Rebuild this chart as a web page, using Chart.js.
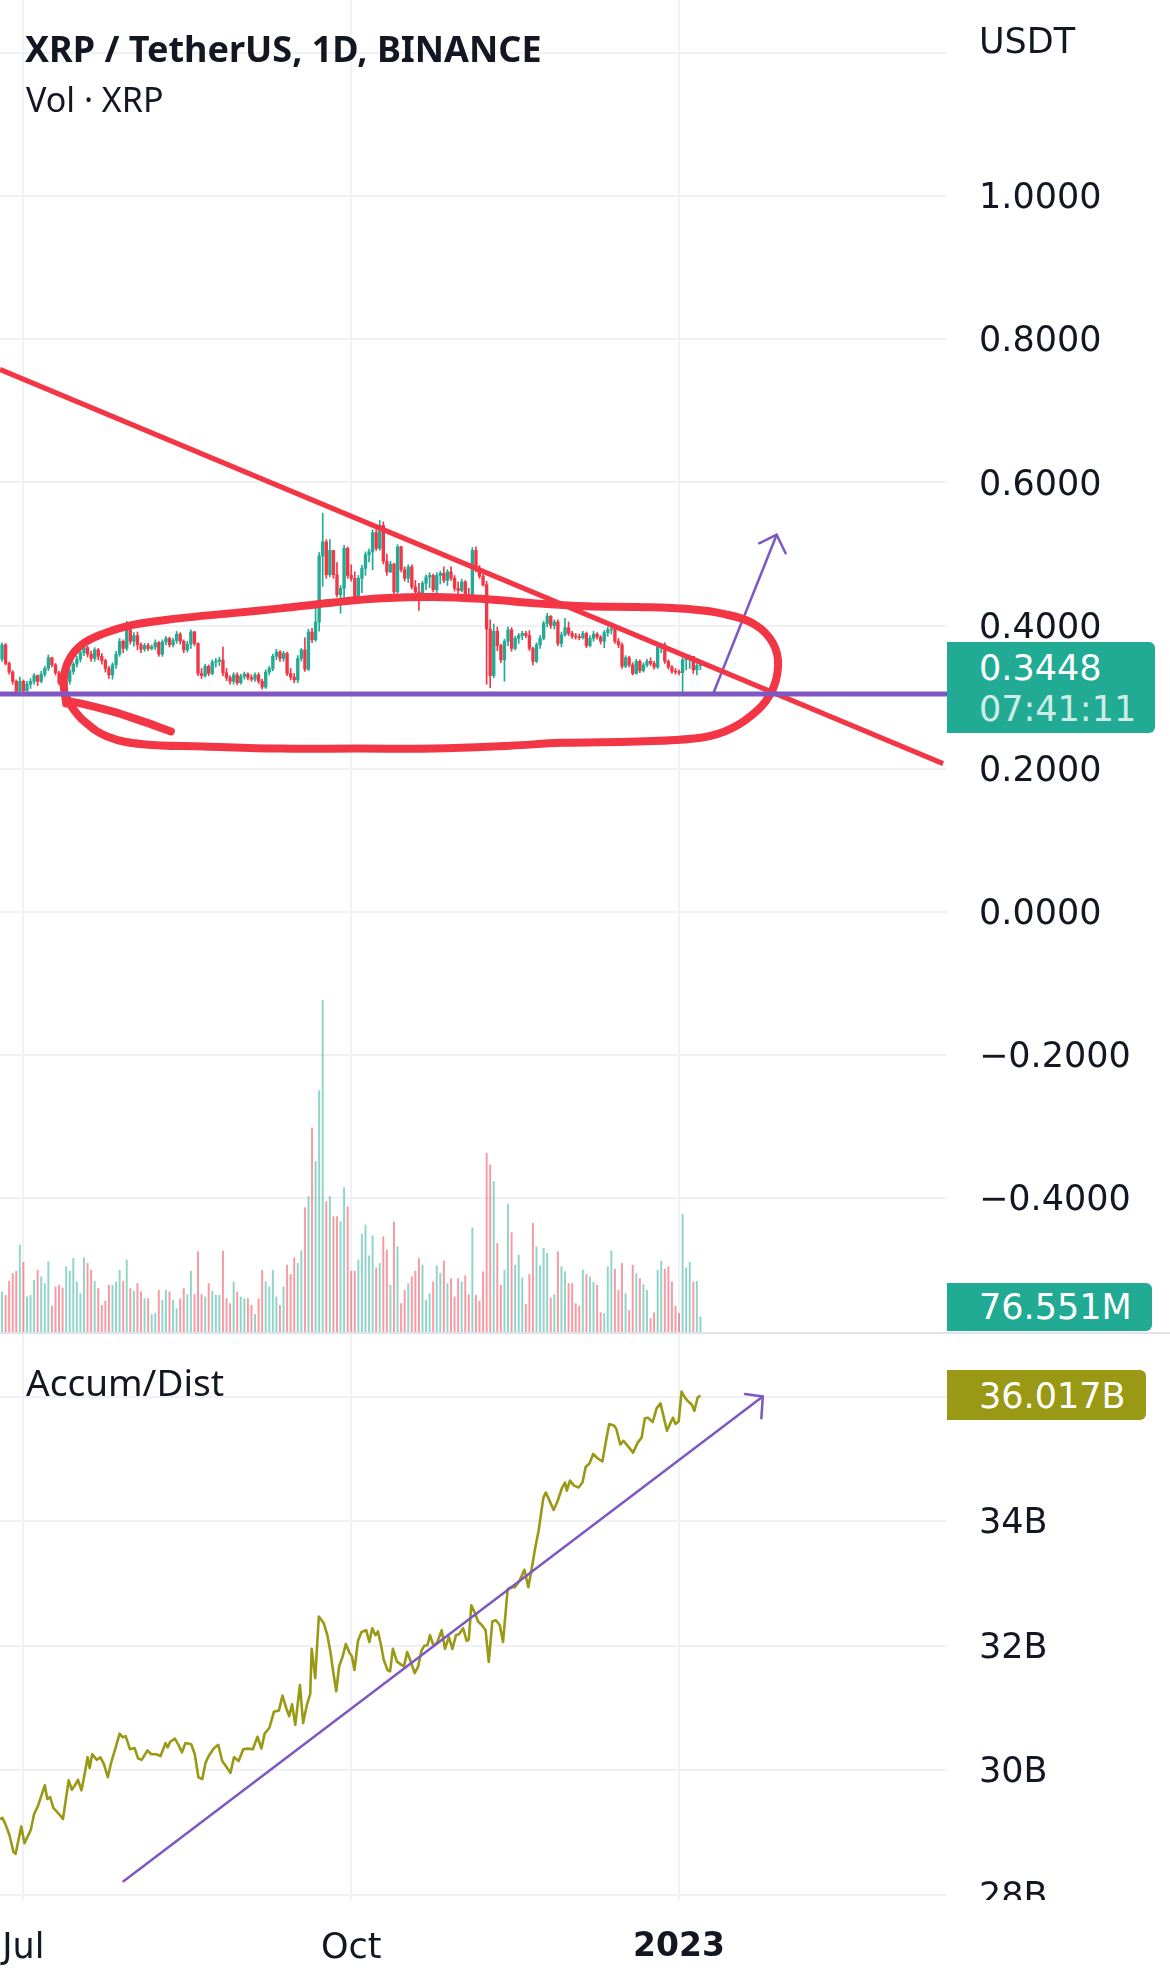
<!DOCTYPE html>
<html>
<head>
<meta charset="utf-8">
<title>XRP / TetherUS, 1D, BINANCE</title>
<script src="https://cdn.jsdelivr.net/npm/chart.js@4.4.1/dist/chart.umd.min.js"></script>
<style>
  html, body { margin: 0; padding: 0; background: #fff; }
  body { width: 1170px; height: 1986px; position: relative; overflow: hidden; color: #131722; font-family: "DejaVu Sans", sans-serif; }
  canvas { position: absolute; left: 0; }
  #priceCanvas { top: 0; }
  #adCanvas { top: 1333px; }
  .txt { position: absolute; white-space: nowrap; line-height: 1; }
  .title { left: 25px; top: 24px; font: bold 36px "Noto Sans", sans-serif; }
  .sub { left: 26px; top: 76px; font: 34px "Noto Sans", sans-serif; }
  .unit { left: 979px; top: 21px; font: 35px "DejaVu Sans", sans-serif; }
  .pane2 { left: 26px; top: 1356px; font: 37px "Noto Sans", sans-serif; }
  .box { position: absolute; left: 947px; border-radius: 0 6px 6px 0; color: #fff; font: 35px "DejaVu Sans", sans-serif; }
  .box span { position: absolute; left: 32px; line-height: 1; white-space: nowrap; }
  #sep { position: absolute; left: 0; top: 1332px; width: 1170px; height: 2px; background: #e0e3eb; }
</style>
</head>
<body>
<canvas id="priceCanvas" width="1170" height="1333"></canvas>
<canvas id="adCanvas" width="1170" height="653"></canvas>
<div id="sep"></div>

<div class="txt title">XRP / TetherUS, 1D, BINANCE</div>
<div class="txt sub">Vol · XRP</div>
<div class="txt unit">USDT</div>
<div class="txt pane2">Accum/Dist</div>

<div class="box" style="top:642px;width:208px;height:91px;background:#22ab94;">
  <span style="top:9px;">0.3448</span>
  <span style="top:50px;color:rgba(255,255,255,0.8);">07:41:11</span>
</div>
<div class="box" style="top:1283px;width:205px;height:48px;background:#22ab94;">
  <span style="top:7px;">76.551M</span>
</div>
<div class="box" style="top:1370px;width:199px;height:50px;background:#999915;">
  <span style="top:9px;">36.017B</span>
</div>

<script>
// first candle is 25 Jun 2022, day 0 = 1 Jul 2022
const startDay = -6;
const firstOpen = 0.353;

const closes = [
  0.373, 0.347, 0.335, 0.322, 0.308, 0.322,
  0.309, 0.318, 0.322, 0.330, 0.322, 0.332, 0.340, 0.355, 0.345, 0.334,
  0.320, 0.309, 0.322, 0.336, 0.346, 0.353, 0.362, 0.369, 0.360, 0.354,
  0.366, 0.357, 0.351, 0.340, 0.331, 0.345, 0.360, 0.378, 0.368, 0.394,
  0.378, 0.386, 0.373, 0.367, 0.372, 0.368, 0.370, 0.376, 0.360, 0.377,
  0.382, 0.373, 0.379, 0.388, 0.378, 0.366, 0.374, 0.391, 0.375, 0.333,
  0.330, 0.343, 0.333, 0.349, 0.350, 0.352, 0.334, 0.327, 0.322, 0.331,
  0.320, 0.329, 0.332, 0.327, 0.325, 0.331, 0.322, 0.314, 0.335, 0.340,
  0.357, 0.363, 0.354, 0.361, 0.333, 0.328, 0.324, 0.354, 0.366, 0.339,
  0.391, 0.380, 0.405, 0.497, 0.517, 0.471, 0.505, 0.471, 0.443, 0.452,
  0.508, 0.470, 0.466, 0.440, 0.466, 0.480, 0.499, 0.503, 0.530, 0.508,
  0.540, 0.490, 0.475, 0.486, 0.447, 0.510, 0.478, 0.466, 0.482, 0.454,
  0.447, 0.438, 0.459, 0.468, 0.470, 0.450, 0.470, 0.473, 0.463, 0.475,
  0.466, 0.452, 0.449, 0.461, 0.443, 0.440, 0.505, 0.478, 0.469, 0.457,
  0.395, 0.330, 0.392, 0.372, 0.352, 0.378, 0.394, 0.368, 0.382, 0.386,
  0.389, 0.386, 0.368, 0.350, 0.373, 0.382, 0.403, 0.413, 0.400, 0.405,
  0.375, 0.387, 0.397, 0.389, 0.385, 0.384, 0.383, 0.389, 0.372, 0.382,
  0.388, 0.384, 0.378, 0.390, 0.394, 0.395, 0.378, 0.373, 0.343, 0.355,
  0.345, 0.333, 0.350, 0.337, 0.345, 0.350, 0.347, 0.342, 0.370, 0.373,
  0.350, 0.342, 0.336, 0.335, 0.334, 0.352, 0.355, 0.357, 0.338, 0.344,
  0.3448
];

const highs = [
  0.376, 0.375, 0.349, 0.337, 0.324, 0.328,
  0.324, 0.322, 0.326, 0.333, 0.331, 0.336, 0.343, 0.359, 0.356, 0.347,
  0.336, 0.322, 0.326, 0.339, 0.349, 0.357, 0.366, 0.378, 0.371, 0.364,
  0.369, 0.368, 0.361, 0.353, 0.343, 0.348, 0.364, 0.382, 0.380, 0.406,
  0.395, 0.390, 0.391, 0.376, 0.375, 0.375, 0.373, 0.380, 0.378, 0.380,
  0.385, 0.384, 0.382, 0.392, 0.390, 0.380, 0.378, 0.394, 0.392, 0.376,
  0.340, 0.346, 0.345, 0.352, 0.354, 0.356, 0.370, 0.340, 0.330, 0.334,
  0.334, 0.332, 0.335, 0.334, 0.331, 0.334, 0.334, 0.325, 0.338, 0.343,
  0.360, 0.367, 0.365, 0.364, 0.363, 0.340, 0.333, 0.358, 0.368, 0.383,
  0.395, 0.396, 0.425, 0.502, 0.557, 0.520, 0.520, 0.505, 0.488, 0.456,
  0.512, 0.510, 0.485, 0.475, 0.470, 0.484, 0.503, 0.507, 0.534, 0.534,
  0.547, 0.545, 0.500, 0.490, 0.487, 0.513, 0.511, 0.482, 0.485, 0.485,
  0.463, 0.459, 0.462, 0.471, 0.474, 0.472, 0.474, 0.476, 0.482, 0.478,
  0.482, 0.470, 0.461, 0.465, 0.463, 0.452, 0.509, 0.510, 0.484, 0.472,
  0.462, 0.408, 0.402, 0.398, 0.374, 0.381, 0.398, 0.397, 0.385, 0.389,
  0.392, 0.392, 0.393, 0.370, 0.376, 0.386, 0.406, 0.417, 0.414, 0.408,
  0.408, 0.391, 0.410, 0.405, 0.392, 0.389, 0.388, 0.392, 0.391, 0.386,
  0.392, 0.390, 0.386, 0.393, 0.398, 0.400, 0.397, 0.382, 0.376, 0.358,
  0.357, 0.348, 0.353, 0.352, 0.348, 0.353, 0.355, 0.350, 0.373, 0.375,
  0.376, 0.352, 0.344, 0.340, 0.338, 0.355, 0.358, 0.359, 0.357, 0.347,
  0.347
];

const lows = [
  0.350, 0.345, 0.332, 0.318, 0.302, 0.303,
  0.305, 0.306, 0.312, 0.318, 0.316, 0.320, 0.329, 0.337, 0.342, 0.331,
  0.317, 0.305, 0.301, 0.318, 0.332, 0.342, 0.349, 0.358, 0.356, 0.350,
  0.350, 0.352, 0.346, 0.335, 0.326, 0.325, 0.340, 0.357, 0.362, 0.365,
  0.374, 0.371, 0.366, 0.362, 0.364, 0.365, 0.366, 0.366, 0.357, 0.357,
  0.373, 0.370, 0.370, 0.375, 0.374, 0.362, 0.363, 0.368, 0.372, 0.330,
  0.326, 0.328, 0.330, 0.331, 0.342, 0.344, 0.330, 0.323, 0.318, 0.318,
  0.317, 0.318, 0.325, 0.324, 0.322, 0.322, 0.319, 0.311, 0.312, 0.331,
  0.337, 0.352, 0.350, 0.350, 0.330, 0.324, 0.320, 0.320, 0.350, 0.336,
  0.337, 0.376, 0.378, 0.392, 0.455, 0.466, 0.468, 0.466, 0.440, 0.417,
  0.436, 0.466, 0.462, 0.436, 0.434, 0.446, 0.470, 0.489, 0.478, 0.505,
  0.505, 0.486, 0.470, 0.474, 0.442, 0.445, 0.475, 0.462, 0.460, 0.451,
  0.444, 0.421, 0.436, 0.450, 0.453, 0.447, 0.440, 0.458, 0.460, 0.456,
  0.463, 0.448, 0.445, 0.447, 0.440, 0.437, 0.438, 0.475, 0.466, 0.455,
  0.318, 0.313, 0.327, 0.365, 0.348, 0.322, 0.372, 0.364, 0.366, 0.375,
  0.380, 0.383, 0.365, 0.345, 0.348, 0.368, 0.380, 0.398, 0.396, 0.395,
  0.372, 0.370, 0.385, 0.386, 0.382, 0.381, 0.380, 0.381, 0.369, 0.370,
  0.378, 0.381, 0.374, 0.369, 0.385, 0.388, 0.375, 0.369, 0.340, 0.341,
  0.342, 0.331, 0.332, 0.334, 0.335, 0.342, 0.344, 0.339, 0.340, 0.362,
  0.347, 0.339, 0.333, 0.332, 0.331, 0.303, 0.338, 0.340, 0.333, 0.331,
  0.338
];

// volume in millions of XRP
const volumes = [
  196, 180, 247, 284, 295, 419, 337, 172, 180, 252,
  300, 268, 236, 340, 129, 220, 228, 215, 316, 295,
  356, 244, 188, 359, 332, 300, 247, 212, 132, 152,
  228, 228, 244, 300, 247, 348, 212, 199, 236, 196,
  164, 164, 88, 93, 204, 156, 204, 196, 156, 116,
  164, 212, 183, 295, 183, 388, 183, 172, 236, 199,
  180, 180, 391, 164, 140, 244, 196, 172, 164, 164,
  132, 88, 164, 300, 244, 220, 300, 172, 132, 220,
  324, 279, 359, 332, 392, 598, 651, 978, 818, 1156,
  1587, 627, 651, 555, 555, 531, 694, 603, 295, 295,
  348, 471, 515, 368, 464, 311, 332, 459, 396, 228,
  531, 412, 140, 204, 236, 268, 295, 356, 324, 156,
  188, 244, 321, 284, 343, 236, 260, 172, 260, 244,
  273, 183, 502, 180, 152, 292, 858, 802, 723, 427,
  228, 300, 614, 479, 324, 372, 263, 136, 279, 523,
  412, 321, 404, 380, 167, 183, 388, 316, 292, 236,
  236, 140, 129, 300, 279, 268, 241, 228, 97, 93,
  316, 391, 305, 204, 332, 188, 108, 324, 284, 260,
  231, 204, 69, 97, 300, 343, 305, 316, 244, 129,
  93, 566, 311, 337, 244, 247, 76.551
];

// Accum/Dist line, read point by point (day, billions)
const adDays = [
  -6.5, -5.9, -5.0, -3.9, -2.8, -2.2, -0.6, 0.3, 2.1, 3.0,
  4.1, 6.0, 6.7, 7.5, 8.4, 10.0, 11.1, 12.7, 13.6, 14.7,
  15.3, 16.3, 17.3, 18.0, 18.6, 19.3, 20.6, 21.6, 22.6, 23.7,
  24.6, 25.9, 27.0, 27.9, 28.7, 29.9, 31.2, 32.2, 33.2, 34.8,
  35.9, 37.2, 38.5, 39.9, 40.5, 41.2, 42.5, 43.6, 44.5, 45.5,
  47.1, 48.1, 49.1, 50.2, 51.1, 52.0, 53.4, 54.7, 55.8, 56.8,
  58.1, 59.1, 60.4, 61.7, 63.0, 64.4, 65.7, 66.8, 67.7, 69.0,
  70.3, 71.7, 72.7, 73.7, 74.6, 75.4, 76.3, 77.6, 78.5, 79.6,
  80.5, 80.9, 81.9, 82.9, 84.3, 85.3, 86.2, 87.0, 87.8, 88.6,
  89.6, 90.5, 91.5, 92.2, 92.9, 93.9, 94.9, 96.2, 97.1, 97.9,
  98.8, 99.5, 100.3, 101.1, 102.2, 102.9, 103.7, 104.8, 105.9, 106.8,
  107.7, 108.5, 109.8, 110.8, 111.7, 112.5, 113.4, 114.1, 115.1, 116.1,
  117.4, 118.3, 119.4, 120.4, 121.4, 122.3, 123.4, 124.4, 125.0, 125.7,
  126.7, 127.6, 128.7, 129.7, 130.6, 131.6, 132.6, 133.7, 134.6, 135.9,
  136.9, 137.9, 139.3, 140.6, 141.7, 142.6, 143.6, 144.6, 145.9, 146.6,
  147.5, 148.8, 149.9, 151.2, 152.0, 152.5, 153.4, 154.5, 155.8, 156.9,
  157.8, 158.9, 159.9, 161.1, 162.5, 163.4, 164.4, 165.8, 166.4, 167.5,
  168.4, 169.7, 171.1, 172.4, 173.5, 174.4, 175.3, 176.6, 177.7, 178.8,
  179.7, 180.6, 181.7, 182.3, 183.0, 183.9, 184.7, 185.7, 186.6, 187.6,
  188.3, 189.2, 190.0
];
const adValues = [
  29.21, 29.24, 29.13, 28.96, 28.69, 28.66, 29.10, 28.83, 29.05, 29.30,
  29.43, 29.76, 29.54, 29.57, 29.40, 29.30, 29.22, 29.84, 29.69, 29.78,
  29.85, 29.68, 29.98, 30.21, 30.04, 30.26, 30.17, 30.21, 30.10, 29.89,
  30.12, 30.37, 30.59, 30.53, 30.55, 30.34, 30.36, 30.19, 30.17, 30.32,
  30.26, 30.26, 30.23, 30.44, 30.37, 30.46, 30.51, 30.40, 30.29, 30.44,
  30.42, 30.26, 29.89, 29.86, 30.12, 30.23, 30.35, 30.41, 30.15, 30.07,
  29.96, 30.21, 30.15, 30.34, 30.35, 30.34, 30.54, 30.35, 30.59, 30.68,
  30.94, 30.96, 31.20, 31.01, 30.87, 31.06, 30.73, 31.37, 30.76, 31.06,
  31.23, 31.95, 31.48, 32.47, 32.36, 32.17, 31.89, 31.56, 31.27, 31.67,
  31.83, 32.03, 31.89, 31.83, 31.61, 32.08, 32.22, 32.25, 32.06, 32.28,
  32.17, 32.23, 32.03, 31.78, 31.61, 31.59, 31.95, 31.75, 31.70, 31.67,
  31.90, 31.78, 31.56, 31.67, 31.92, 32.00, 32.01, 32.17, 32.00, 32.05,
  32.25, 31.95, 32.14, 31.95, 32.17, 32.19, 32.28, 32.08, 32.10, 32.65,
  32.53, 32.39, 32.33, 32.25, 31.74, 32.39, 32.41, 32.33, 32.06, 32.91,
  32.94, 32.94, 33.05, 33.22, 32.94, 33.22, 33.56, 33.85, 34.37, 34.46,
  34.35, 34.18, 34.32, 34.54, 34.62, 34.49, 34.65, 34.57, 34.54, 34.62,
  34.87, 34.93, 35.08, 35.01, 34.96, 35.26, 35.56, 35.53, 35.48, 35.23,
  35.29, 35.20, 35.10, 35.26, 35.34, 35.65, 35.66, 35.59, 35.81, 35.89,
  35.67, 35.45, 35.59, 35.66, 35.56, 35.60, 36.08, 35.98, 35.92, 35.87,
  35.77, 35.98, 36.017
];

const tickDays = [0, 92, 184];
const tickLabels = ["Jul", "Oct", "2023"];
const priceTicks = [-0.4, -0.2, 0, 0.2, 0.4, 0.6, 0.8, 1.0, 1.2];
const adTicks = [28, 30, 32, 34, 36];

// hand drawn marks on the chart, in (day, value)
const supportDays = [-10, 270];
const supportPrices = [0.3044, 0.3044];
const trendDays = [-6.6, 258.1];
const trendPrices = [0.758, 0.207];
const loopDays = [12.0, 11.3, 12.8, 16.3, 22.1, 30.7, 43.6, 57.9, 72.2, 86.5, 100.8, 115.2, 129.5, 143.8, 158.1, 172.4, 186.8, 196.8, 205.4, 210.4, 211.8, 209.7, 204.0, 196.8, 188.2, 172.4, 151.0, 136.6, 115.2, 93.7, 72.2, 50.7, 33.5, 23.5, 17.1, 13.5, 12.0];
const loopPrices = [0.291, 0.324, 0.352, 0.373, 0.388, 0.401, 0.410, 0.417, 0.424, 0.432, 0.438, 0.440, 0.437, 0.431, 0.427, 0.426, 0.423, 0.416, 0.401, 0.375, 0.343, 0.305, 0.273, 0.252, 0.242, 0.238, 0.236, 0.232, 0.228, 0.228, 0.228, 0.231, 0.234, 0.245, 0.266, 0.287, 0.301];
const tailDays = [41.4, 33.5, 24.9, 16.3, 12.8];
const tailPrices = [0.252, 0.266, 0.280, 0.291, 0.294];
const arrowDays = [193.6, 211.4];
const arrowPrices = [0.305, 0.527];
const arrowHeadDays = [206.5, 211.4, 213.9];
const arrowHeadPrices = [0.515, 0.527, 0.501];
const adTrendDays = [28.1, 207.5];
const adTrendValues = [28.22, 36.0];
const adHeadDays = [202.5, 207.5, 207.1];
const adHeadValues = [36.04, 36.0, 35.65];

const UP = "#22ab94", DOWN = "#f23645", PURPLE = "#7e57c2", RED = "#f23645", OLIVE = "#999915";
const GRID = "#eff1f5";
const X_MIN = -6.57, X_MAX = 259.2;
const AXIS_W = 223;
const AXIS_FONT = "'DejaVu Sans', sans-serif";

Chart.defaults.font.family = AXIS_FONT;
Chart.defaults.color = "#131722";

const days = closes.map((c, i) => startDay + i);
const opens = closes.map((c, i) => (i === 0 ? firstOpen : closes[i - 1]));
const candleColors = closes.map((c, i) => (c >= opens[i] ? UP : DOWN));
const volColors = closes.map((c, i) => (c >= opens[i] ? "rgba(34,171,148,0.5)" : "rgba(242,54,69,0.5)"));

const pts = (xs, ys) => xs.map((x, i) => ({ x: x, y: ys[i] }));

function markLine(data, color, width, extra) {
  return Object.assign({
    type: "line", data: data, borderColor: color, borderWidth: width,
    pointRadius: 0, fill: false, clip: 0, order: 1,
    borderCapStyle: "round", borderJoinStyle: "round", yAxisID: "y"
  }, extra || {});
}

function fixWidth(s) { s.width = AXIS_W; s.paddingTop = 0; s.paddingBottom = 0; }
function fixHeight(h) {
  return function (s) { s.height = h; s.paddingLeft = 0; s.paddingRight = 0; };
}

const priceLabel = (v) => {
  if (Math.abs(v - 1.2) < 1e-9) return "";
  return (v < -1e-9 ? "\u2212" : "") + Math.abs(v).toFixed(4);
};

new Chart(document.getElementById("priceCanvas"), {
  type: "bar",
  data: {
    datasets: [
      { type: "bar", data: pts(days, volumes), yAxisID: "vol", backgroundColor: volColors,
        barThickness: 1.3, grouped: false, order: 10 },
      { type: "bar", data: days.map((d, i) => ({ x: d, y: [lows[i], highs[i]] })), yAxisID: "y",
        backgroundColor: candleColors, barThickness: 1, grouped: false, order: 6 },
      { type: "bar", data: days.map((d, i) => ({ x: d, y: [opens[i], closes[i]] })), yAxisID: "y",
        backgroundColor: candleColors, barThickness: 2.7, minBarLength: 1, grouped: false, order: 5 },
      markLine(pts(supportDays, supportPrices), PURPLE, 5, { borderCapStyle: "butt" }),
      markLine(pts(trendDays, trendPrices), RED, 5, { borderCapStyle: "butt" }),
      markLine(pts(loopDays, loopPrices), RED, 8, { tension: 0.4 }),
      markLine(pts(tailDays, tailPrices), RED, 8, { tension: 0.4 }),
      markLine(pts(arrowDays, arrowPrices), PURPLE, 2.5),
      markLine(pts(arrowHeadDays, arrowHeadPrices), PURPLE, 2.5)
    ]
  },
  options: {
    responsive: false,
    animation: false,
    events: [],
    layout: { padding: 0 },
    plugins: { legend: { display: false }, tooltip: { enabled: false } },
    scales: {
      x: {
        type: "linear", min: X_MIN, max: X_MAX, offset: false,
        grid: { color: GRID, lineWidth: 2, drawTicks: false, offset: false },
        border: { display: false },
        ticks: { display: false },
        afterBuildTicks: (axis) => { axis.ticks = tickDays.map((v) => ({ value: v })); },
        afterFit: fixHeight(0)
      },
      y: {
        type: "linear", position: "right", min: -0.5889, max: 1.2744,
        grid: { color: GRID, lineWidth: 2, drawTicks: false },
        border: { display: false },
        ticks: { autoSkip: false, padding: 32, labelOffset: 3, font: { size: 35 }, color: "#131722", callback: priceLabel },
        afterBuildTicks: (axis) => { axis.ticks = priceTicks.map((v) => ({ value: v })); },
        afterFit: fixWidth
      },
      vol: { type: "linear", display: false, min: 0, max: 6360 }
    }
  }
});

// hides the lower part of the last A/D axis label, as the pane edge does
const paneEdge = {
  id: "paneEdge",
  afterDraw(chart) {
    const a = chart.chartArea, c = chart.ctx;
    c.save();
    c.fillStyle = "#fff";
    c.fillRect(a.right, a.bottom, chart.width - a.right, 40);
    c.restore();
  }
};

new Chart(document.getElementById("adCanvas"), {
  type: "line",
  data: {
    datasets: [
      { data: pts(adDays, adValues), borderColor: OLIVE, borderWidth: 2.6, pointRadius: 0,
        fill: false, tension: 0, clip: 0, borderJoinStyle: "round", order: 2 },
      { data: pts(adTrendDays, adTrendValues), borderColor: PURPLE, borderWidth: 2.5, pointRadius: 0,
        fill: false, clip: 0, borderCapStyle: "round", order: 1 },
      { data: pts(adHeadDays, adHeadValues), borderColor: PURPLE, borderWidth: 2.5, pointRadius: 0,
        fill: false, clip: 0, borderCapStyle: "round", borderJoinStyle: "round", order: 1 }
    ]
  },
  plugins: [paneEdge],
  options: {
    responsive: false,
    animation: false,
    events: [],
    layout: { padding: 0 },
    plugins: { legend: { display: false }, tooltip: { enabled: false } },
    scales: {
      x: {
        type: "linear", min: X_MIN, max: X_MAX, offset: false,
        grid: { color: GRID, lineWidth: 2, drawTicks: false },
        border: { display: false },
        ticks: {
          autoSkip: false, maxRotation: 0, minRotation: 0, padding: 28, color: "#131722",
          font: (ctx) => {
            const year = ctx.tick && /^\d{4}$/.test(String(ctx.tick.label));
            return { size: year ? 33 : 35, weight: year ? "bold" : "normal" };
          },
          callback: (v) => tickLabels[tickDays.indexOf(v)]
        },
        afterBuildTicks: (axis) => { axis.ticks = tickDays.map((v) => ({ value: v })); },
        afterFit: fixHeight(86)
      },
      y: {
        type: "linear", position: "right", min: 27.92, max: 37.02,
        grid: { color: GRID, lineWidth: 2, drawTicks: false },
        border: { display: false },
        ticks: { autoSkip: false, padding: 32, labelOffset: 3, font: { size: 35 }, color: "#131722",
          callback: (v) => (v === 36 ? "" : v + "B") },
        afterBuildTicks: (axis) => { axis.ticks = adTicks.map((v) => ({ value: v })); },
        afterFit: fixWidth
      }
    }
  }
});
</script>
</body>
</html>
